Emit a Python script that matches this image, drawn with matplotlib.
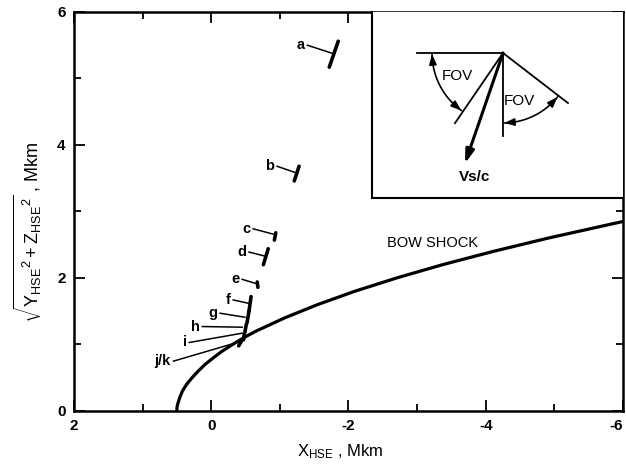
import numpy as np
import matplotlib
matplotlib.use("Agg")
import matplotlib.pyplot as plt
from matplotlib.patches import FancyArrowPatch

plt.rcParams['font.family'] = ['Liberation Sans', 'DejaVu Sans']
plt.rcParams['mathtext.fontset'] = 'custom'
plt.rcParams['mathtext.rm'] = 'Liberation Sans'
plt.rcParams['mathtext.it'] = 'Liberation Sans'
plt.rcParams['mathtext.bf'] = 'Liberation Sans:bold'

# bow shock
shock_y = [0.0, 0.05, 0.1, 0.2, 0.3, 0.4, 0.5, 0.6, 0.7, 0.8, 0.9, 1.0, 1.1, 1.2, 1.4,
           1.6, 1.8, 2.0, 2.2, 2.4, 2.6, 2.85]
shock_x = [0.50, 0.50, 0.49, 0.46, 0.42, 0.36, 0.28, 0.19, 0.09, -0.03, -0.16, -0.31, -0.47,
           -0.65, -1.07, -1.55, -2.09, -2.70, -3.37, -4.11, -4.91, -6.0]

# observation segments a .. j/k
seg_names = ['a', 'b', 'c', 'd', 'e', 'f', 'g', 'h', 'i', 'j/k']
seg_x0 = [-1.85, -1.28, -0.94, -0.83, -0.67, -0.58, -0.55, -0.51, -0.48, -0.44]
seg_y0 = [5.56, 3.68, 2.68, 2.44, 1.94, 1.72, 1.50, 1.30, 1.15, 1.05]
seg_x1 = [-1.72, -1.21, -0.92, -0.76, -0.68, -0.55, -0.52, -0.49, -0.47, -0.40]
seg_y1 = [5.17, 3.46, 2.57, 2.20, 1.86, 1.50, 1.32, 1.18, 1.07, 0.98]
# leader lines: start (near label) and end (at segment)
lead_x0 = [-1.40, -0.96, -0.61, -0.55, -0.45, -0.32, -0.13, 0.13, 0.32, 0.55]
lead_y0 = [5.50, 3.68, 2.74, 2.39, 1.98, 1.67, 1.47, 1.27, 1.03, 0.75]
lead_x1 = [-1.76, -1.24, -0.90, -0.78, -0.64, -0.54, -0.49, -0.45, -0.45, -0.41]
lead_y1 = [5.38, 3.58, 2.66, 2.33, 1.92, 1.62, 1.41, 1.26, 1.17, 1.04]

fig = plt.figure(figsize=(6.26, 4.68), dpi=100)
ax = fig.add_axes([0.1182, 0.1218, 0.877, 0.8526])
ax.set_xlim(2, -6)
ax.set_ylim(0, 6)

ax.plot(shock_x, shock_y, color='black', lw=2.3, solid_capstyle='butt')
for n, x0, y0, x1, y1, lx0, ly0, lx1, ly1 in zip(seg_names, seg_x0, seg_y0, seg_x1, seg_y1,
                                                 lead_x0, lead_y0, lead_x1, lead_y1):
    ax.plot([x0, x1], [y0, y1], color='black', lw=2.6, solid_capstyle='round')
    ax.plot([lx0, lx1], [ly0, ly1], color='black', lw=1.1)
    ax.text(lx0 + 0.04, ly0, n, ha='right', va='center', fontsize=10.5, fontweight='bold')

ax.text(-2.56, 2.53, 'BOW SHOCK', ha='left', va='center', fontsize=10.5)

ax.set_xticks([2, 0, -2, -4, -6])
ax.set_xticks([1, -1, -3, -5], minor=True)
ax.set_yticks([0, 2, 4, 6])
ax.set_yticks([1, 3, 5], minor=True)
ax.set_xticklabels(['2', '0', '-2', '-4', '-6'], fontweight='bold', fontsize=11)
ax.set_yticklabels(['0', '2', '4', '6'], fontweight='bold', fontsize=11)
ax.get_xticklabels()[-1].set_horizontalalignment('right')
ax.tick_params(which='both', direction='in', top=True, right=True, width=1.3, color='black')
ax.tick_params(which='major', length=8, pad=6)
ax.tick_params(which='minor', length=5)
for s in ax.spines.values():
    s.set_linewidth(1.8)

fig.text(340 / 626, 1 - 452 / 468, r'X$_{\mathrm{HSE}}$ , Mkm', ha='center', va='center', fontsize=12)
fig.text(28 / 626, 1 - 232 / 468,
         r'$\sqrt{\mathrm{Y}_{\mathrm{HSE}}{}^{2}+\mathrm{Z}_{\mathrm{HSE}}{}^{2}}$ , Mkm',
         rotation=90, ha='center', va='center', fontsize=13)

# inset: field of view sketch (units are pixels of the inset box)
ins = fig.add_axes([372 / 626, 1 - 198 / 468, 251 / 626, 186 / 468])
ins.set_xlim(0, 251)
ins.set_ylim(0, 186)
ins.set_xticks([])
ins.set_yticks([])
ins.spines['top'].set_visible(False)
ins.spines['right'].set_visible(False)
ins.spines['left'].set_linewidth(1.5)
ins.spines['bottom'].set_linewidth(1.5)

apex = np.array([131.0, 145.0])


def ray(angle, length):
    a = np.radians(angle)
    return apex + length * np.array([np.cos(a), np.sin(a)])


for ang, ln in [(180, 86), (235.6, 85), (270, 83), (-37.6, 82)]:
    p = ray(ang, ln)
    ins.plot([apex[0], p[0]], [apex[1], p[1]], color='black', lw=1.3)

tip = ray(251, 117)
ins.add_patch(FancyArrowPatch(apex, tip, arrowstyle='-|>,head_length=8,head_width=2.5',
                              lw=2.2, color='black', shrinkA=0, shrinkB=0, mutation_scale=1))
ins.text(tip[0] + 10, tip[1] - 13, 'Vs/c', ha='center', va='center', fontsize=11, fontweight='bold')

# FOV arcs with arrowheads at both ends
for a0, a1, r in [(181, 234, 71), (271, 321, 70)]:
    th = np.radians(np.linspace(a0, a1, 60))
    ins.plot(apex[0] + r * np.cos(th), apex[1] + r * np.sin(th), color='black', lw=1.2)
    for end, prev in [(a0, a0 + 8), (a1, a1 - 8)]:
        ins.annotate('', xy=ray(end, r), xytext=ray(prev, r),
                     arrowprops=dict(arrowstyle='-|>,head_length=0.6,head_width=0.22',
                                     color='black', lw=1.2, shrinkA=0, shrinkB=0))

ins.text(85, 122, 'FOV', ha='center', va='center', fontsize=11)
ins.text(147, 97, 'FOV', ha='center', va='center', fontsize=11)

fig.savefig('out.png', dpi=100)
